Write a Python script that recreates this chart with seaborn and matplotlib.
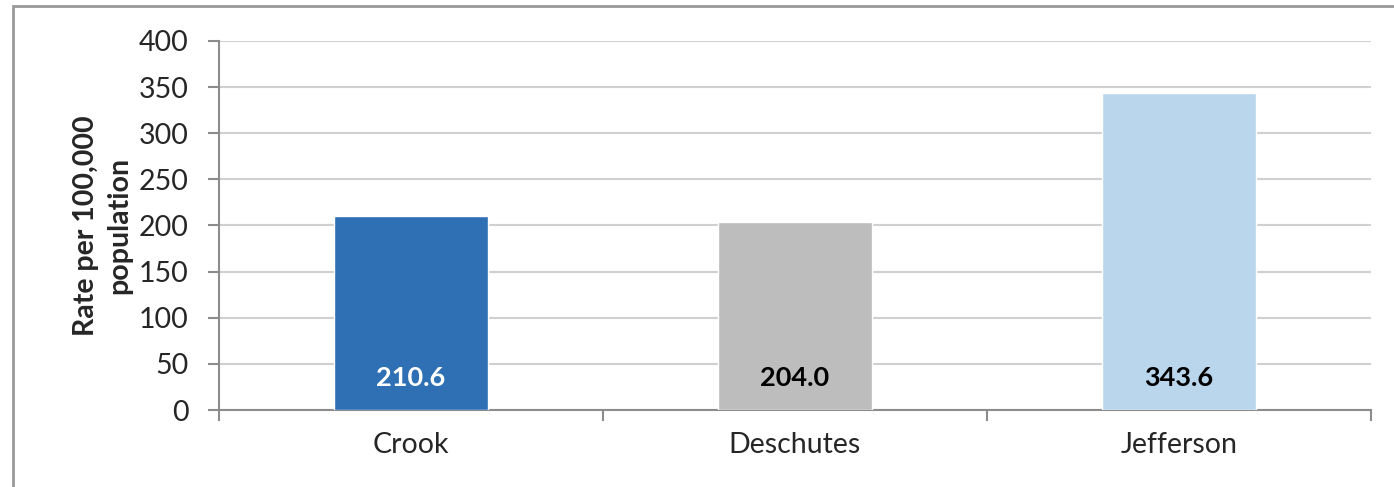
import matplotlib
matplotlib.use("Agg")
import matplotlib.pyplot as plt
import matplotlib.patches as mpatches
import pandas as pd
import seaborn as sns

# ==========================================
# DATA
# ==========================================

counties = ["Crook", "Deschutes", "Jefferson"]
rates = [210.6, 204.0, 343.6]
bar_colors = ["#2E70B3", "#BDBDBD", "#BAD6EC"]
label_colors = ["white", "black", "black"]
y_ticks = [0, 50, 100, 150, 200, 250, 300, 350, 400]

df = pd.DataFrame({"County": counties, "Rate": rates})

# ==========================================
# PLOT
# ==========================================

sns.set_style("white")
plt.rcParams["font.family"] = ["Lato", "DejaVu Sans"]

fig = plt.figure(figsize=(13.94, 4.87), dpi=100)
ax = fig.add_axes([0.157, 0.158, 0.8265, 0.758])

sns.barplot(
    data=df,
    x="County",
    y="Rate",
    hue="County",
    palette=bar_colors,
    width=0.4,
    legend=False,
    saturation=1,
    ax=ax,
    zorder=3
)

ax.set_ylim(0, 400)
ax.set_xlim(-0.5, len(counties) - 0.5)
ax.set_yticks(y_ticks)
ax.grid(axis="y", color="#D0D0D0", linewidth=1.5, zorder=0)
ax.set_axisbelow(True)

for s in ["top", "right"]:
    ax.spines[s].set_visible(False)
for s in ["left", "bottom"]:
    ax.spines[s].set_color("#8C8C8C")
    ax.spines[s].set_linewidth(1.5)

ax.tick_params(axis="y", left=True, length=8, width=1.5, color="#8C8C8C",
               labelsize=20.5, pad=14)
ax.tick_params(axis="x", which="major", bottom=False, length=0,
               labelsize=20.5, pad=16)
ax.set_xticks([i - 0.5 for i in range(len(counties) + 1)], minor=True)
ax.tick_params(axis="x", which="minor", bottom=True, length=8, width=1.5,
               color="#8C8C8C")

ax.set_xlabel("")
ax.set_ylabel("Rate per 100,000\npopulation", fontsize=20.5,
              fontweight="bold", linespacing=1.35)
ax.yaxis.set_label_coords(-0.075, 0.5)

# value labels near the base of each bar
for patch, val, col in zip(ax.patches, rates, label_colors):
    ax.text(
        patch.get_x() + patch.get_width() / 2,
        35,
        f"{val:.1f}",
        ha="center",
        va="center",
        fontsize=19.5,
        fontweight="bold",
        color=col,
        zorder=4
    )

# outer frame
fig.patches.append(mpatches.Rectangle(
    (0.0093, -0.05), 1.05, 0.9877 + 0.05,
    transform=fig.transFigure,
    fill=False,
    edgecolor="#999999",
    linewidth=2
))

fig.savefig("out.png", dpi=100)
plt.close(fig)
